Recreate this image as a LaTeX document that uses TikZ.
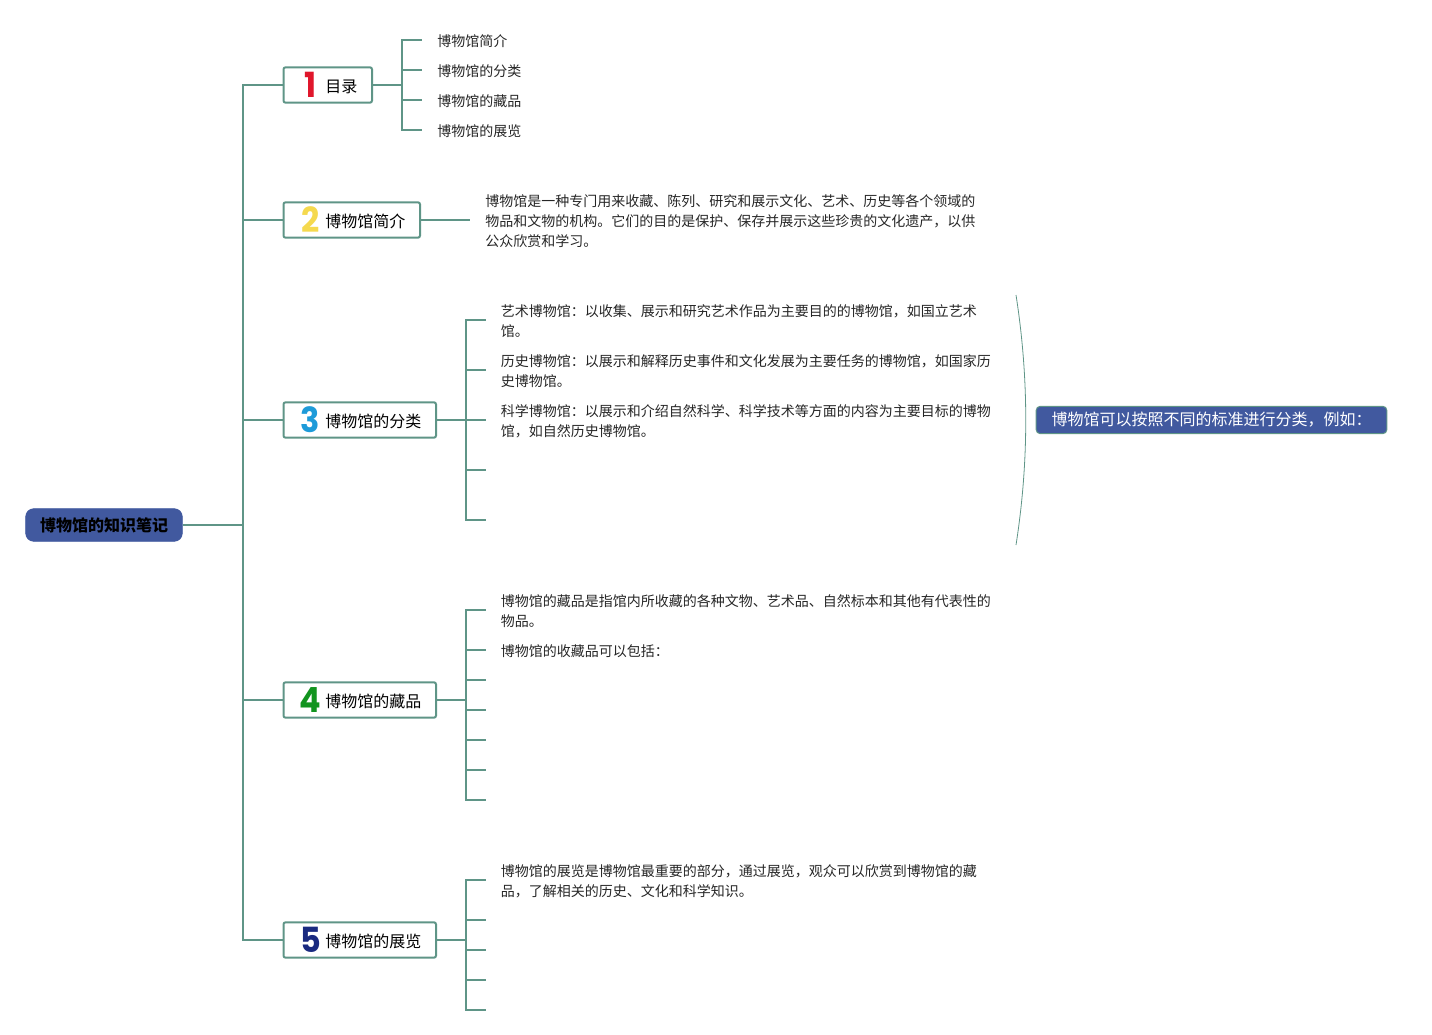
\documentclass[tikz,border=0pt]{standalone}
\usepackage{fontspec}
\setmainfont{Noto Sans CJK SC}
\newfontfamily\numfont{Poppins}
\usetikzlibrary{positioning}
\definecolor{linkcol}{HTML}{5F9587}
\definecolor{rootcol}{HTML}{41599F}
\definecolor{numa}{HTML}{E0162B}
\definecolor{numb}{HTML}{F5D94E}
\definecolor{numc}{HTML}{1E9BD9}
\definecolor{numd}{HTML}{12941F}
\definecolor{nume}{HTML}{1A2A80}

\begin{document}
\begin{tikzpicture}[x=0.75pt,y=-0.75pt,font=\fontsize{10.5}{15}\selectfont]
\tikzstyle{link}=[draw=linkcol,line width=1.5pt]
\tikzstyle{box}=[draw=linkcol,line width=1.5pt,fill=white,rounded corners=1.5pt,minimum height=26.5pt,anchor=west]
\tikzstyle{num}=[font=\numfont\bfseries\fontsize{26}{26}\selectfont,xscale=0.92]
\tikzstyle{lab}=[anchor=west,inner sep=0,font=\fontsize{12}{15}\selectfont]
\tikzstyle{txt}=[anchor=west,inner sep=0,align=left,text=black!85]
\useasboundingbox (0,0) rectangle (1432,1035);
% root and trunk
\node[draw=rootcol,fill=rootcol,rounded corners=6pt,minimum width=117.5pt,minimum height=24.5pt,inner sep=0,font=\bfseries\fontsize{12}{15}\selectfont] (root) at (104,525) {博物馆的知识笔记};
\coordinate (trunk) at (243,525);
\draw[link] (root) -- (trunk);
% branch boxes
\foreach \i/\w/\y/\c/\t in {1/88.5/85/numa/目录,2/136.5/220/numb/博物馆简介,3/152.5/420/numc/博物馆的分类,4/152.5/700/numd/博物馆的藏品,5/152.5/940/nume/博物馆的展览} {
  \node[box,minimum width=\w*0.75pt] (b\i) at (282.5,\y) {};
  \draw[link] (trunk) |- (b\i.west);
  \node[num,text=\c] (n\i) at (310.5,\y) {\i};
  \node[lab] (l\i) at (325,\y+1.5) {\t};
}
% section 1
\coordinate (j1) at (402,85);
\draw[link] (b1) -- (j1);
\foreach \i/\y/\t in {a/40/博物馆简介,b/70/博物馆的分类,c/100/博物馆的藏品,d/130/博物馆的展览} {
  \coordinate (s\i) at (422,\y);
  \draw[link] (j1) |- (s\i);
  \node[txt] (t\i) at (437,\y+1.5) {\t};
}
% section 2
\coordinate (s2) at (470,220);
\draw[link] (b2) -- (s2);
\node[txt] (t2) at (485,221.5) {博物馆是一种专门用来收藏、陈列、研究和展示文化、艺术、历史等各个领域的\\物品和文物的机构。它们的目的是保护、保存并展示这些珍贵的文化遗产，以供\\公众欣赏和学习。};
% section 3
\coordinate (j3) at (466,420);
\draw[link] (b3) -- (j3);
\foreach \y in {320,370,420,470,520} {
  \coordinate (s3x\y) at (486,\y);
  \draw[link] (j3) |- (s3x\y);
}
\node[txt] (t3a) at (500.5,321.5) {艺术博物馆：以收集、展示和研究艺术作品为主要目的的博物馆，如国立艺术\\馆。};
\node[txt] (t3b) at (500.5,371.5) {历史博物馆：以展示和解释历史事件和文化发展为主要任务的博物馆，如国家历\\史博物馆。};
\node[txt] (t3c) at (500.5,421.5) {科学博物馆：以展示和介绍自然科学、科学技术等方面的内容为主要目标的博物\\馆，如自然历史博物馆。};
\coordinate (ca) at (1016,295);
\coordinate (cb) at (1016,545);
\draw[draw=linkcol,line width=0.6pt] (ca) .. controls (1029,378) and (1029,462) .. (cb);
\node[draw=linkcol,fill=rootcol,rounded corners=3pt,line width=0.75pt,minimum width=263pt,minimum height=20.5pt,inner sep=0,text=white,font=\fontsize{12}{15}\selectfont] (side) at (1211.5,420) {\raisebox{-1pt}{博物馆可以按照不同的标准进行分类，例如：}};
% section 4
\coordinate (j4) at (466,700);
\draw[link] (b4) -- (j4);
\foreach \y in {610,650,680,710,740,770,800} {
  \coordinate (s4x\y) at (486,\y);
  \draw[link] (j4) |- (s4x\y);
}
\node[txt] (t4a) at (500.5,611.5) {博物馆的藏品是指馆内所收藏的各种文物、艺术品、自然标本和其他有代表性的\\物品。};
\node[txt] (t4b) at (500.5,651.5) {博物馆的收藏品可以包括：};
% section 5
\coordinate (j5) at (466,940);
\draw[link] (b5) -- (j5);
\foreach \y in {880,920,950,980,1010} {
  \coordinate (s5x\y) at (486,\y);
  \draw[link] (j5) |- (s5x\y);
}
\node[txt] (t5) at (500.5,881.5) {博物馆的展览是博物馆最重要的部分，通过展览，观众可以欣赏到博物馆的藏\\品，了解相关的历史、文化和科学知识。};
\end{tikzpicture}
\end{document}
